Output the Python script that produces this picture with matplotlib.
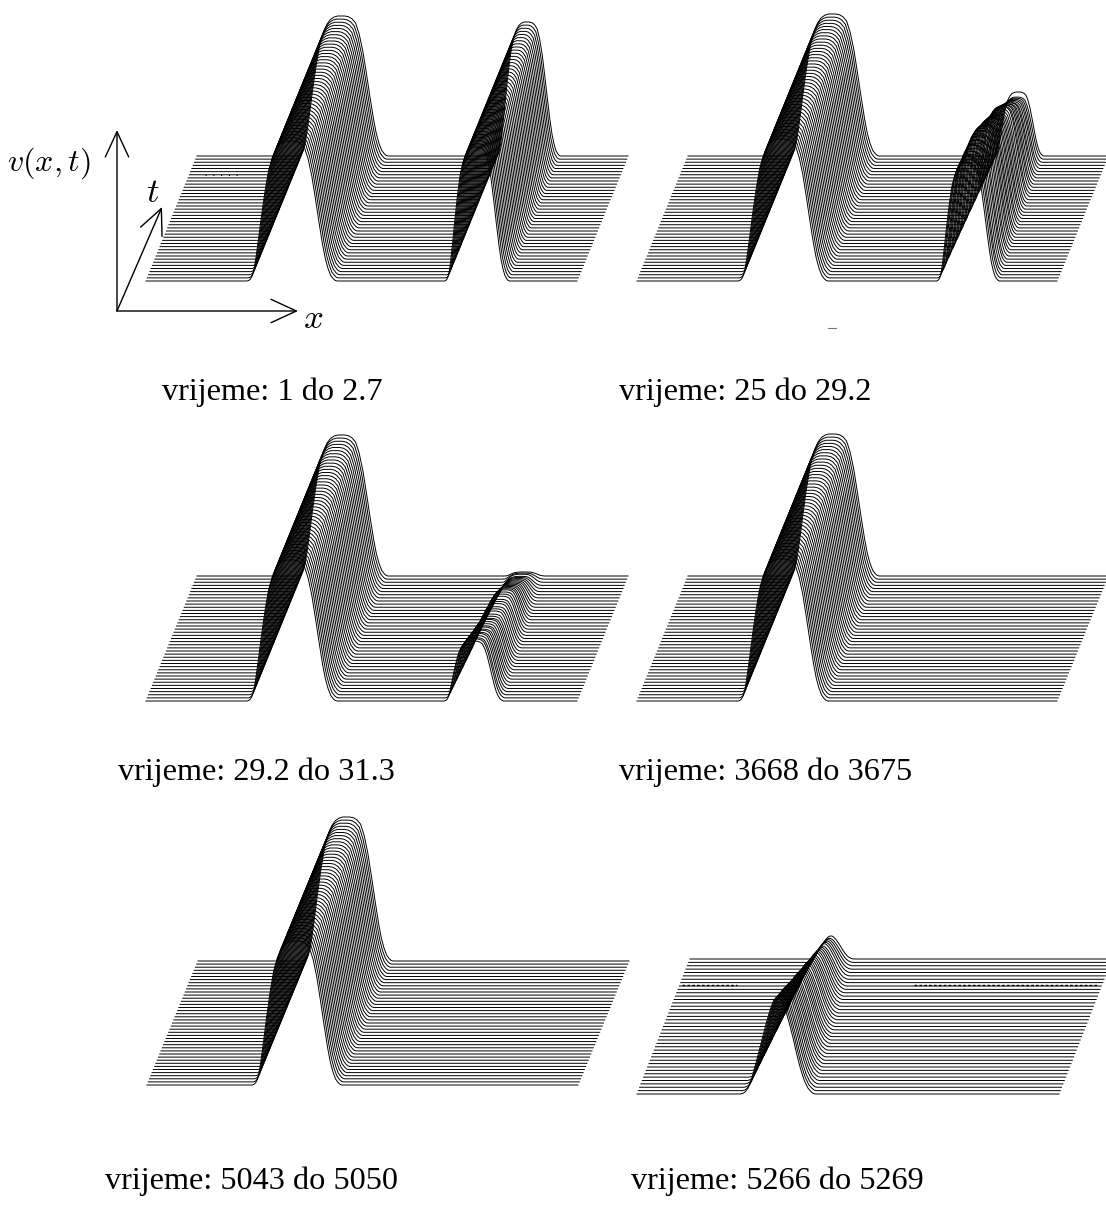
# waterfall plots of v(x,t) for six time windows
import numpy as np
import matplotlib
matplotlib.use("Agg")
import matplotlib.pyplot as plt

# ----------------- config -----------------
W, H = 1106, 1207
N_LINES = 41
LW = 0.7
# -----------------------------------------

# pulse outline: position across the pulse, relative height
PULSE_U = [0.0, 0.02, 0.04, 0.06, 0.08, 0.10, 0.13, 0.16, 0.20, 0.24, 0.28, 0.32, 0.36, 0.40, 0.44,
           0.48, 0.52, 0.56, 0.60, 0.64, 0.68, 0.72, 0.76, 0.80, 0.84, 0.87, 0.90, 0.93, 0.96, 0.98, 1.0]
PULSE_H = [0.0, 0.004, 0.015, 0.04, 0.09, 0.17, 0.31, 0.46, 0.64, 0.79, 0.88, 0.94, 0.975, 0.992, 1.0,
           1.0, 1.0, 0.995, 0.98, 0.95, 0.87, 0.75, 0.59, 0.42, 0.26, 0.16, 0.09, 0.04, 0.015, 0.004, 0.0]
# the weak pulse in the last panel is more pointed
PEAK_U = [0.0, 0.03, 0.06, 0.10, 0.15, 0.20, 0.25, 0.30, 0.35, 0.40, 0.44, 0.48, 0.52,
          0.56, 0.60, 0.65, 0.70, 0.75, 0.80, 0.85, 0.90, 0.94, 0.97, 1.0]
PEAK_H = [0.0, 0.006, 0.02, 0.06, 0.16, 0.30, 0.45, 0.60, 0.75, 0.88, 0.96, 1.0, 1.0,
          0.95, 0.87, 0.73, 0.58, 0.41, 0.26, 0.14, 0.06, 0.025, 0.006, 0.0]

# peak height and width per line, front to back, for the pulses that change
P2_AMP = [118, 118, 118, 117, 117, 117, 117, 116, 116, 116, 116, 116, 115, 114, 112, 110, 108, 106, 105, 103, 101,
          99, 97, 95, 93, 92, 91, 90, 87, 85, 82, 80, 77, 75, 72, 70, 68, 66, 64, 62, 64]
P2_W = [63, 63, 63, 62, 62, 62, 62, 61, 61, 61, 60, 60, 60, 59, 59, 59, 58, 58, 58, 57, 57,
        57, 56, 56, 56, 55, 55, 55, 54, 54, 54, 53, 53, 53, 52, 52, 52, 51, 51, 51, 50]
P3_AMP = [60, 59, 57, 56, 55, 53, 52, 50, 49, 47, 46, 45, 44, 42, 41, 40, 40, 39, 38, 38, 37,
          36, 36, 35, 34, 33, 31, 29, 27, 25, 23, 21, 19, 17, 15, 13, 11, 9, 8, 6, 4]
P3_W = [60, 60, 59, 59, 58, 58, 57, 57, 56, 56, 55, 55, 54, 54, 53, 53, 52, 52, 52, 51, 51,
        50, 50, 49, 49, 48, 48, 47, 47, 46, 46, 45, 45, 44, 44, 43, 43, 42, 42, 42, 42]
P6_AMP = [97, 95, 93, 91, 89, 88, 86, 84, 82, 80, 78, 76, 74, 72, 70, 69, 67, 65, 63, 61, 59,
          57, 56, 54, 52, 50, 48, 46, 44, 43, 41, 39, 37, 35, 33, 32, 30, 28, 26, 24, 23]
P6_W = [75, 74, 73, 73, 72, 71, 71, 70, 69, 69, 68, 67, 67, 66, 65, 65, 64, 63, 62, 62, 61,
        60, 60, 59, 58, 58, 57, 56, 56, 55, 54, 54, 53, 52, 51, 51, 50, 49, 48, 47, 46]

CONST_W = 90

# time windows under the panels
CAPTIONS = ["vrijeme: 1 do 2.7", "vrijeme: 25 do 29.2", "vrijeme: 29.2 do 31.3",
            "vrijeme: 3668 do 3675", "vrijeme: 5043 do 5050", "vrijeme: 5266 do 5269"]
CAPTION_POS = [(162, 390), (619, 390), (118, 770), (619, 770), (105, 1179), (631, 1179)]


def draw_panel(ax, x0, x1, y0, x_back, y_back, pulses):
    # one polyline per time step, back lines shifted right and up
    dx = (x_back - x0) / (N_LINES - 1)
    dy = (y0 - y_back) / (N_LINES - 1)
    for k in range(N_LINES):
        base = y0 - k * dy
        xs = [x0 + k * dx]
        ys = [base]
        for centre, amp, width, u, h in pulses:
            a = amp[k] if isinstance(amp, list) else amp
            w = width[k] if isinstance(width, list) else width
            xs.extend(centre + k * dx + (np.array(u) - 0.5) * w)
            ys.extend(base - np.array(h) * a)
        xs.append(x1 + k * dx)
        ys.append(base)
        ax.plot(xs, ys, color="black", lw=LW, snap=False)


fig = plt.figure(figsize=(W / 100, H / 100), dpi=100)
ax = fig.add_axes([0, 0, 1, 1])
ax.set_xlim(0, W); ax.set_ylim(H, 0); ax.axis("off")

draw_panel(ax, 146, 577, 281, 197, 156, [(292, 140, CONST_W, PULSE_U, PULSE_H), (477, 134, 65, PULSE_U, PULSE_H)])
draw_panel(ax, 637, 1057, 281, 688, 156, [(783, 142, CONST_W, PULSE_U, PULSE_H), (968, P2_AMP, P2_W, PULSE_U, PULSE_H)])
draw_panel(ax, 146, 577, 701, 197, 576, [(292, 141, CONST_W, PULSE_U, PULSE_H), (474, P3_AMP, P3_W, PULSE_U, PULSE_H)])
draw_panel(ax, 637, 1057, 701, 688, 576, [(783, 142, CONST_W, PULSE_U, PULSE_H)])
draw_panel(ax, 147, 578, 1085, 198, 961, [(297, 144, CONST_W, PULSE_U, PULSE_H)])
draw_panel(ax, 637, 1059, 1094, 690, 959, [(778, P6_AMP, P6_W, PEAK_U, PEAK_H)])

# scanning specks on some of the flat lines
speck = dict(color="black", lw=1.0, ls=(0, (2, 1.5)))
ax.plot([682, 737], [985, 985], **speck)
ax.plot([914, 1098], [985, 985], **speck)
ax.plot([205, 241], [175, 175], color="black", lw=0.8, ls=(0, (1, 6)))
ax.plot([828, 836], [328, 328], color="#777777", lw=0.8)

# axis arrows, first panel only
origin = (117, 311)
for tip in [(117, 130), (162, 207), (298, 311)]:
    ax.annotate("", xy=tip, xytext=origin,
                arrowprops=dict(arrowstyle="->,head_length=1.3,head_width=0.6", lw=1.0, color="black",
                                shrinkA=0, shrinkB=0, mutation_scale=14))

plt.rcParams["mathtext.fontset"] = "cm"
ax.text(49, 163, r"$v(x,t)$", fontsize=23, ha="center", va="center")
ax.text(153, 192, r"$t$", fontsize=25, ha="center", va="center")
ax.text(313, 318, r"$x$", fontsize=25, ha="center", va="center")

for txt, (cx, cy) in zip(CAPTIONS, CAPTION_POS):
    ax.text(cx, cy + 2, txt, fontsize=23.2, family="Liberation Serif", ha="left", va="center")

fig.savefig("out.png", dpi=100)
